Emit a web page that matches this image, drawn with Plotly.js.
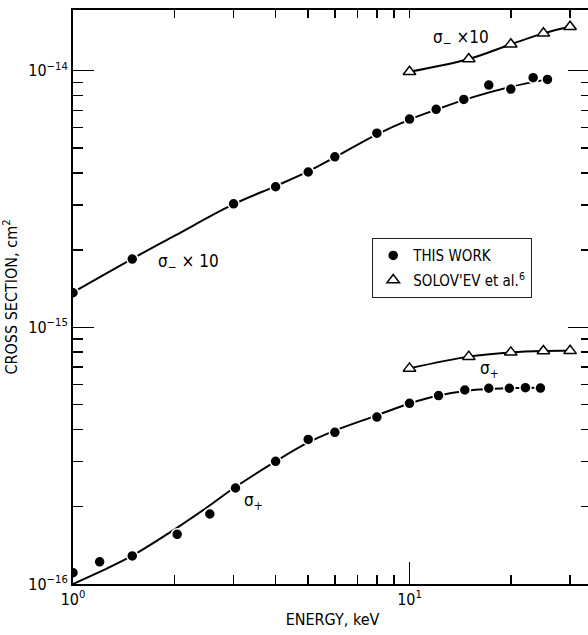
<!DOCTYPE html>
<html>
<head>
<meta charset="utf-8">
<script src="https://cdn.plot.ly/plotly-3.0.1.min.js"></script>
<style>
html, body { margin: 0; padding: 0; background: #fff; overflow: hidden; }
#chart { width: 600px; height: 635px; }
</style>
</head>
<body>
<div id="chart"></div>
<script>
// ---- data ----
// sigma_minus x 10, this work (points)
const minusX = [1.0, 1.5, 3, 4, 5, 6, 8, 10, 12, 14.5, 17.2, 20, 23.3, 25.7];
const minusY = [1.364e-15, 1.846e-15, 3.03e-15, 3.53e-15, 4.03e-15, 4.62e-15, 5.71e-15, 6.48e-15, 7.07e-15, 7.73e-15, 8.79e-15, 8.48e-15, 9.39e-15, 9.25e-15];
// sigma_minus x 10, fitted curve
const minusCurveX = [1, 1.5, 2, 3, 4, 5, 6, 8, 10, 12, 15, 20, 25.7];
const minusCurveY = [1.37e-15, 1.85e-15, 2.27e-15, 3.02e-15, 3.55e-15, 4.05e-15, 4.6e-15, 5.65e-15, 6.45e-15, 7.05e-15, 7.8e-15, 8.65e-15, 9.25e-15];
// sigma_plus, this work (points)
const plusX = [1.0, 1.2, 1.5, 2.04, 2.55, 3.04, 4.0, 5.0, 6.0, 8.0, 10, 12.2, 14.6, 17.2, 19.8, 22.1, 24.5];
const plusY = [1.107e-16, 1.22e-16, 1.286e-16, 1.562e-16, 1.874e-16, 2.366e-16, 3.006e-16, 3.66e-16, 3.9e-16, 4.47e-16, 5.06e-16, 5.42e-16, 5.70e-16, 5.79e-16, 5.79e-16, 5.82e-16, 5.80e-16];
// sigma_plus, fitted curve
const plusCurveX = [1, 1.2, 1.5, 2, 2.5, 3, 4, 5, 6, 8, 10, 12, 15, 20, 24.5];
const plusCurveY = [1.0e-16, 1.114e-16, 1.289e-16, 1.63e-16, 1.987e-16, 2.36e-16, 3.004e-16, 3.56e-16, 3.96e-16, 4.54e-16, 5.05e-16, 5.4e-16, 5.68e-16, 5.8e-16, 5.82e-16];
// Solov'ev et al. (triangles)
const solovX = [10, 15, 20, 25, 30];
const solovMinusY = [9.9e-15, 1.11e-14, 1.267e-14, 1.398e-14, 1.483e-14];
const solovPlusY = [6.92e-16, 7.69e-16, 7.99e-16, 8.09e-16, 8.1e-16];

// ---- ticks ----
const xMajorVals = [1, 10];
const xMajorText = ['10<sup>0</sup>', '10<sup>1</sup>'];
const xMinorVals = [2, 3, 4, 5, 6, 7, 8, 9, 20, 30];
const xAllVals = [1, 2, 3, 4, 5, 6, 7, 8, 9, 10, 20, 30];
const yMajorVals = [1e-16, 1e-15, 1e-14];
const yMajorText = ['10<sup>−16</sup>', '10<sup>−15</sup>', '10<sup>−14</sup>'];
const yMinorVals = [2e-16, 3e-16, 4e-16, 5e-16, 6e-16, 7e-16, 8e-16, 9e-16,
                    2e-15, 3e-15, 4e-15, 5e-15, 6e-15, 7e-15, 8e-15, 9e-15];

const FONT = 'Liberation Sans Narrow, DejaVu Sans Condensed, Arial Narrow, sans-serif';
const xRange = [0, 1.5423];
const yRange = [-16, -13.7635];

const lineStyle = {color: '#000', width: 2};
const dotMarker = {symbol: 'circle', size: 11, color: '#000', line: {color: '#fff', width: 1.5}};
const triMarker = {symbol: 'triangle-up', size: 11, color: '#fff', line: {color: '#000', width: 1.5}};

const traces = [
  {x: minusCurveX, y: minusCurveY, mode: 'lines', line: Object.assign({shape: 'spline'}, lineStyle), showlegend: false, hoverinfo: 'skip'},
  {x: plusCurveX, y: plusCurveY, mode: 'lines', line: Object.assign({shape: 'spline'}, lineStyle), showlegend: false, hoverinfo: 'skip'},
  {x: solovX, y: solovMinusY, mode: 'lines', line: Object.assign({shape: 'spline'}, lineStyle), showlegend: false, hoverinfo: 'skip'},
  {x: solovX, y: solovPlusY, mode: 'lines', line: Object.assign({shape: 'spline'}, lineStyle), showlegend: false, hoverinfo: 'skip'},
  {x: minusX, y: minusY, mode: 'markers', marker: dotMarker, name: 'THIS WORK', legendgroup: 'tw'},
  {x: plusX, y: plusY, mode: 'markers', marker: dotMarker, name: 'THIS WORK', legendgroup: 'tw', showlegend: false},
  {x: solovX, y: solovMinusY, mode: 'markers', marker: triMarker, name: "SOLOV'EV et al.<sup>6</sup>", legendgroup: 'sv'},
  {x: solovX, y: solovPlusY, mode: 'markers', marker: triMarker, name: "SOLOV'EV et al.<sup>6</sup>", legendgroup: 'sv', showlegend: false},
  // empty carriers so the extra tick axes are drawn
  {x: [], y: [], xaxis: 'x2', yaxis: 'y', showlegend: false, hoverinfo: 'skip'},
  {x: [], y: [], xaxis: 'x3', yaxis: 'y', showlegend: false, hoverinfo: 'skip'},
  {x: [], y: [], xaxis: 'x', yaxis: 'y2', showlegend: false, hoverinfo: 'skip'},
  {x: [], y: [], xaxis: 'x', yaxis: 'y3', showlegend: false, hoverinfo: 'skip'},
  {x: [], y: [], xaxis: 'x', yaxis: 'y4', showlegend: false, hoverinfo: 'skip'}
];

const baseAx = {type: 'log', showgrid: false, zeroline: false, ticks: 'inside', tickcolor: '#000', tickwidth: 1.5, fixedrange: true};

function px2paperX(p) { return (p - 73) / 519; }
function px2paperY(p) { return (584 - p) / 574; }

const annFont = {family: FONT, size: 17, color: '#000'};
function label(text, px, py) {
  return {text: text, xref: 'paper', yref: 'paper', x: px2paperX(px), y: px2paperY(py),
          xanchor: 'center', yanchor: 'middle', showarrow: false, font: annFont};
}

const layout = {
  width: 600, height: 635,
  margin: {l: 73, r: 8, t: 10, b: 51},
  paper_bgcolor: '#fff', plot_bgcolor: '#fff',
  font: {family: FONT, size: 16, color: '#000'},
  showlegend: true,
  legend: {x: px2paperX(372), y: px2paperY(238), xanchor: 'left', yanchor: 'top',
           bordercolor: '#222', borderwidth: 1.2, bgcolor: '#fff',
           font: {family: FONT, size: 15, color: '#000'}, tracegroupgap: 2},
  // bottom axis: long major ticks with labels
  xaxis: Object.assign({}, baseAx, {range: xRange, tickmode: 'array', tickvals: xMajorVals, ticktext: xMajorText,
    ticklen: 22, showline: true, linecolor: '#000', linewidth: 2, anchor: 'y',
    title: {text: 'ENERGY, keV', font: {family: FONT, size: 16}, standoff: 6}}),
  // bottom axis: short minor ticks
  xaxis2: Object.assign({}, baseAx, {range: xRange, overlaying: 'x', anchor: 'y', side: 'bottom',
    tickmode: 'array', tickvals: xMinorVals, ticklen: 9, showticklabels: false, showline: false}),
  // top frame
  xaxis3: Object.assign({}, baseAx, {range: xRange, overlaying: 'x', anchor: 'y', side: 'top',
    tickmode: 'array', tickvals: xAllVals, ticklen: 8, showticklabels: false, showline: true, linecolor: '#000', linewidth: 2}),
  // left axis: long major ticks with labels
  yaxis: Object.assign({}, baseAx, {range: yRange, tickmode: 'array', tickvals: yMajorVals, ticktext: yMajorText,
    ticklen: 21, showline: true, linecolor: '#000', linewidth: 2, anchor: 'x',
    title: {text: 'CROSS SECTION, cm<sup>2</sup>', font: {family: FONT, size: 16}, standoff: 8}}),
  // left axis: short minor ticks
  yaxis2: Object.assign({}, baseAx, {range: yRange, overlaying: 'y', anchor: 'x', side: 'left',
    tickmode: 'array', tickvals: yMinorVals, ticklen: 10, showticklabels: false, showline: false}),
  // right frame: minor ticks
  yaxis3: Object.assign({}, baseAx, {range: yRange, overlaying: 'y', anchor: 'x', side: 'right',
    tickmode: 'array', tickvals: yMinorVals, ticklen: 11, showticklabels: false, showline: true, linecolor: '#000', linewidth: 2}),
  // right frame: major ticks
  yaxis4: Object.assign({}, baseAx, {range: yRange, overlaying: 'y', anchor: 'x', side: 'right',
    tickmode: 'array', tickvals: yMajorVals, ticklen: 24, showticklabels: false, showline: false}),
  annotations: [
    label('σ<sub>−</sub> × 10', 188, 262),
    label('σ<sub>−</sub> ×10', 461, 38),
    label('σ<sub>+</sub>', 489, 369),
    label('σ<sub>+</sub>', 253, 501)
  ]
};

Plotly.newPlot('chart', traces, layout, {displayModeBar: false, staticPlot: true});
</script>
</body>
</html>
